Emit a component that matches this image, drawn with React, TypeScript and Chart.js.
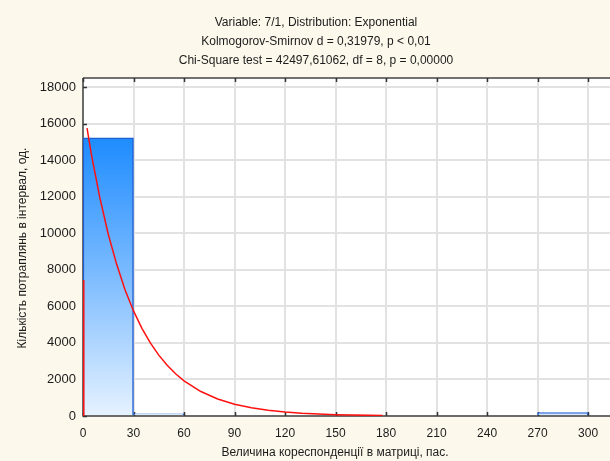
import React, { useEffect, useRef } from "react";
import { Chart, registerables } from "chart.js";

Chart.register(...registerables);

// Histogram bins (lower edges) and observed counts
const binStarts = [0, 30, 60, 90, 120, 150, 180, 210, 240, 270];
const binWidth = 30;
const binCounts = [15230, 120, 0, 0, 0, 0, 0, 0, 0, 190];

// Fitted exponential curve, sampled points
const fitX = [2.4, 5, 10, 15, 20, 25, 30, 35, 40, 45, 50, 55, 60, 70, 80, 90, 100, 110, 120, 130, 140, 150, 160, 170, 178];
const fitY = [15760, 14300, 11950, 9950, 8300, 6900, 5750, 4800, 4000, 3330, 2780, 2310, 1920, 1340, 930, 645, 450, 312, 218, 150, 105, 72, 50, 35, 26];

// Vertical segment of the fit at the origin
const originX = [0.3, 0.3];
const originY = [0, 7450];

const xTicks = [0, 30, 60, 90, 120, 150, 180, 210, 240, 270, 300];
const yTicks = [0, 2000, 4000, 6000, 8000, 10000, 12000, 14000, 16000, 18000];

const titleLines = [
  "Variable: 7/1, Distribution: Exponential",
  "Kolmogorov-Smirnov d = 0,31979, p < 0,01",
  "Chi-Square test = 42497,61062, df = 8, p = 0,00000",
];
const xTitle = "Величина кореспонденції в матриці, пас.";
const yTitle = "Кількість потраплянь в інтервал, од.";

const FONT = '"Liberation Sans", Arial, sans-serif';
const TEXT = "#1c1c1c";

const decorPlugin = {
  id: "decor",
  beforeDraw(chart: any) {
    const { ctx, chartArea: a, width, height } = chart;
    ctx.save();
    ctx.fillStyle = "#fdf8ec";
    ctx.fillRect(0, 0, width, height);
    ctx.fillStyle = "#ffffff";
    ctx.fillRect(a.left, a.top, a.right - a.left, a.bottom - a.top);
    ctx.restore();
  },
  beforeDatasetsDraw(chart: any) {
    const { ctx, chartArea: a, scales } = chart;
    ctx.save();
    // frame
    ctx.strokeStyle = "#444";
    ctx.lineWidth = 1.5;
    ctx.beginPath();
    ctx.moveTo(a.left, a.top);
    ctx.lineTo(a.right, a.top);
    ctx.moveTo(a.left, a.top);
    ctx.lineTo(a.left, a.bottom);
    ctx.lineTo(a.right, a.bottom);
    ctx.stroke();
    // inner tick marks
    ctx.strokeStyle = "#333";
    ctx.beginPath();
    for (const v of xTicks) {
      const px = Math.round(scales.x.getPixelForValue(v)) + 0.5;
      ctx.moveTo(px, a.bottom);
      ctx.lineTo(px, a.bottom - 4);
      ctx.moveTo(px, a.top);
      ctx.lineTo(px, a.top + 4);
    }
    for (const v of yTicks) {
      const py = Math.round(scales.y.getPixelForValue(v)) + 0.5;
      ctx.moveTo(a.left, py);
      ctx.lineTo(a.left + 4, py);
    }
    ctx.stroke();
    ctx.restore();
  },
  afterDraw(chart: any) {
    const { ctx } = chart;
    ctx.save();
    ctx.fillStyle = TEXT;
    ctx.font = `12px ${FONT}`;
    ctx.textAlign = "center";
    ctx.textBaseline = "middle";
    titleLines.forEach((t, i) => ctx.fillText(t, 316, 23 + i * 19));
    ctx.fillText(xTitle, 335, 453);
    ctx.translate(23, 248);
    ctx.rotate(-Math.PI / 2);
    ctx.fillText(yTitle, 0, 0);
    ctx.restore();
  },
};

function barFill(context: any) {
  const chart = context.chart;
  const scales = chart.scales;
  const flat = "#d6e8fd";
  if (context.type !== "data" || !scales || !scales.y) return flat;
  const v = context.raw?.y ?? 0;
  const top = scales.y.getPixelForValue(v);
  const bot = scales.y.getPixelForValue(0);
  if (!Number.isFinite(top) || !Number.isFinite(bot) || bot - top < 6) return flat;
  const g = chart.ctx.createLinearGradient(0, top, 0, bot);
  g.addColorStop(0, "#1e8cff");
  g.addColorStop(0.5, "#7dbcff");
  g.addColorStop(1, "#e6f2ff");
  return g;
}

export default function App() {
  const ref = useRef<HTMLCanvasElement | null>(null);

  useEffect(() => {
    document.body.style.margin = "0";
    document.body.style.overflow = "hidden";
    const canvas = ref.current;
    if (!canvas) return;

    const barData = binStarts.map((s, i) => ({ x: s + binWidth / 2, y: binCounts[i] }));
    const fitData = fitX.map((x, i) => ({ x, y: fitY[i] }));
    const originData = originX.map((x, i) => ({ x, y: originY[i] }));

    const chart = new Chart(canvas, {
      type: "bar",
      data: {
        datasets: [
          {
            type: "line",
            data: fitData,
            borderColor: "#ff1010",
            borderWidth: 1.5,
            pointRadius: 0,
            tension: 0,
            order: 0,
          } as any,
          {
            type: "line",
            data: originData,
            borderColor: "#ff1010",
            borderWidth: 2,
            pointRadius: 0,
            order: 0,
          } as any,
          {
            type: "bar",
            data: barData,
            backgroundColor: barFill,
            borderColor: "#1f5fd6",
            borderWidth: 1.5,
            barPercentage: 1,
            categoryPercentage: 1,
            grouped: false,
            order: 1,
          } as any,
        ],
      },
      options: {
        animation: false,
        responsive: false,
        devicePixelRatio: 1,
        layout: { padding: { top: 78, left: 0, right: 0, bottom: 0 } },
        plugins: {
          legend: { display: false },
          tooltip: { enabled: false },
          title: { display: false },
        },
        scales: {
          x: {
            type: "linear",
            min: 0,
            max: 313,
            offset: false,
            border: { display: false },
            grid: { color: "#e2e2e2", lineWidth: 2, drawTicks: false, offset: false },
            ticks: {
              padding: 10,
              color: TEXT,
              font: { family: FONT, size: 12 },
              maxRotation: 0,
              callback: (v: any) => String(v),
            },
            afterBuildTicks: (s: any) => {
              s.ticks = xTicks.map((v) => ({ value: v }));
            },
            afterFit: (s: any) => {
              s.height = 45;
            },
          },
          y: {
            type: "linear",
            min: 0,
            max: 18500,
            border: { display: false },
            grid: { color: "#e2e2e2", lineWidth: 2, drawTicks: false },
            ticks: {
              padding: 7,
              color: TEXT,
              font: { family: FONT, size: 13 },
              callback: (v: any) => String(v),
            },
            afterBuildTicks: (s: any) => {
              s.ticks = yTicks.map((v) => ({ value: v }));
            },
            afterFit: (s: any) => {
              s.width = 83;
            },
          },
        },
      } as any,
      plugins: [decorPlugin],
    });

    return () => chart.destroy();
  }, []);

  return (
    <div style={{ width: 610, height: 461 }}>
      <canvas ref={ref} width={610} height={461} />
    </div>
  );
}
